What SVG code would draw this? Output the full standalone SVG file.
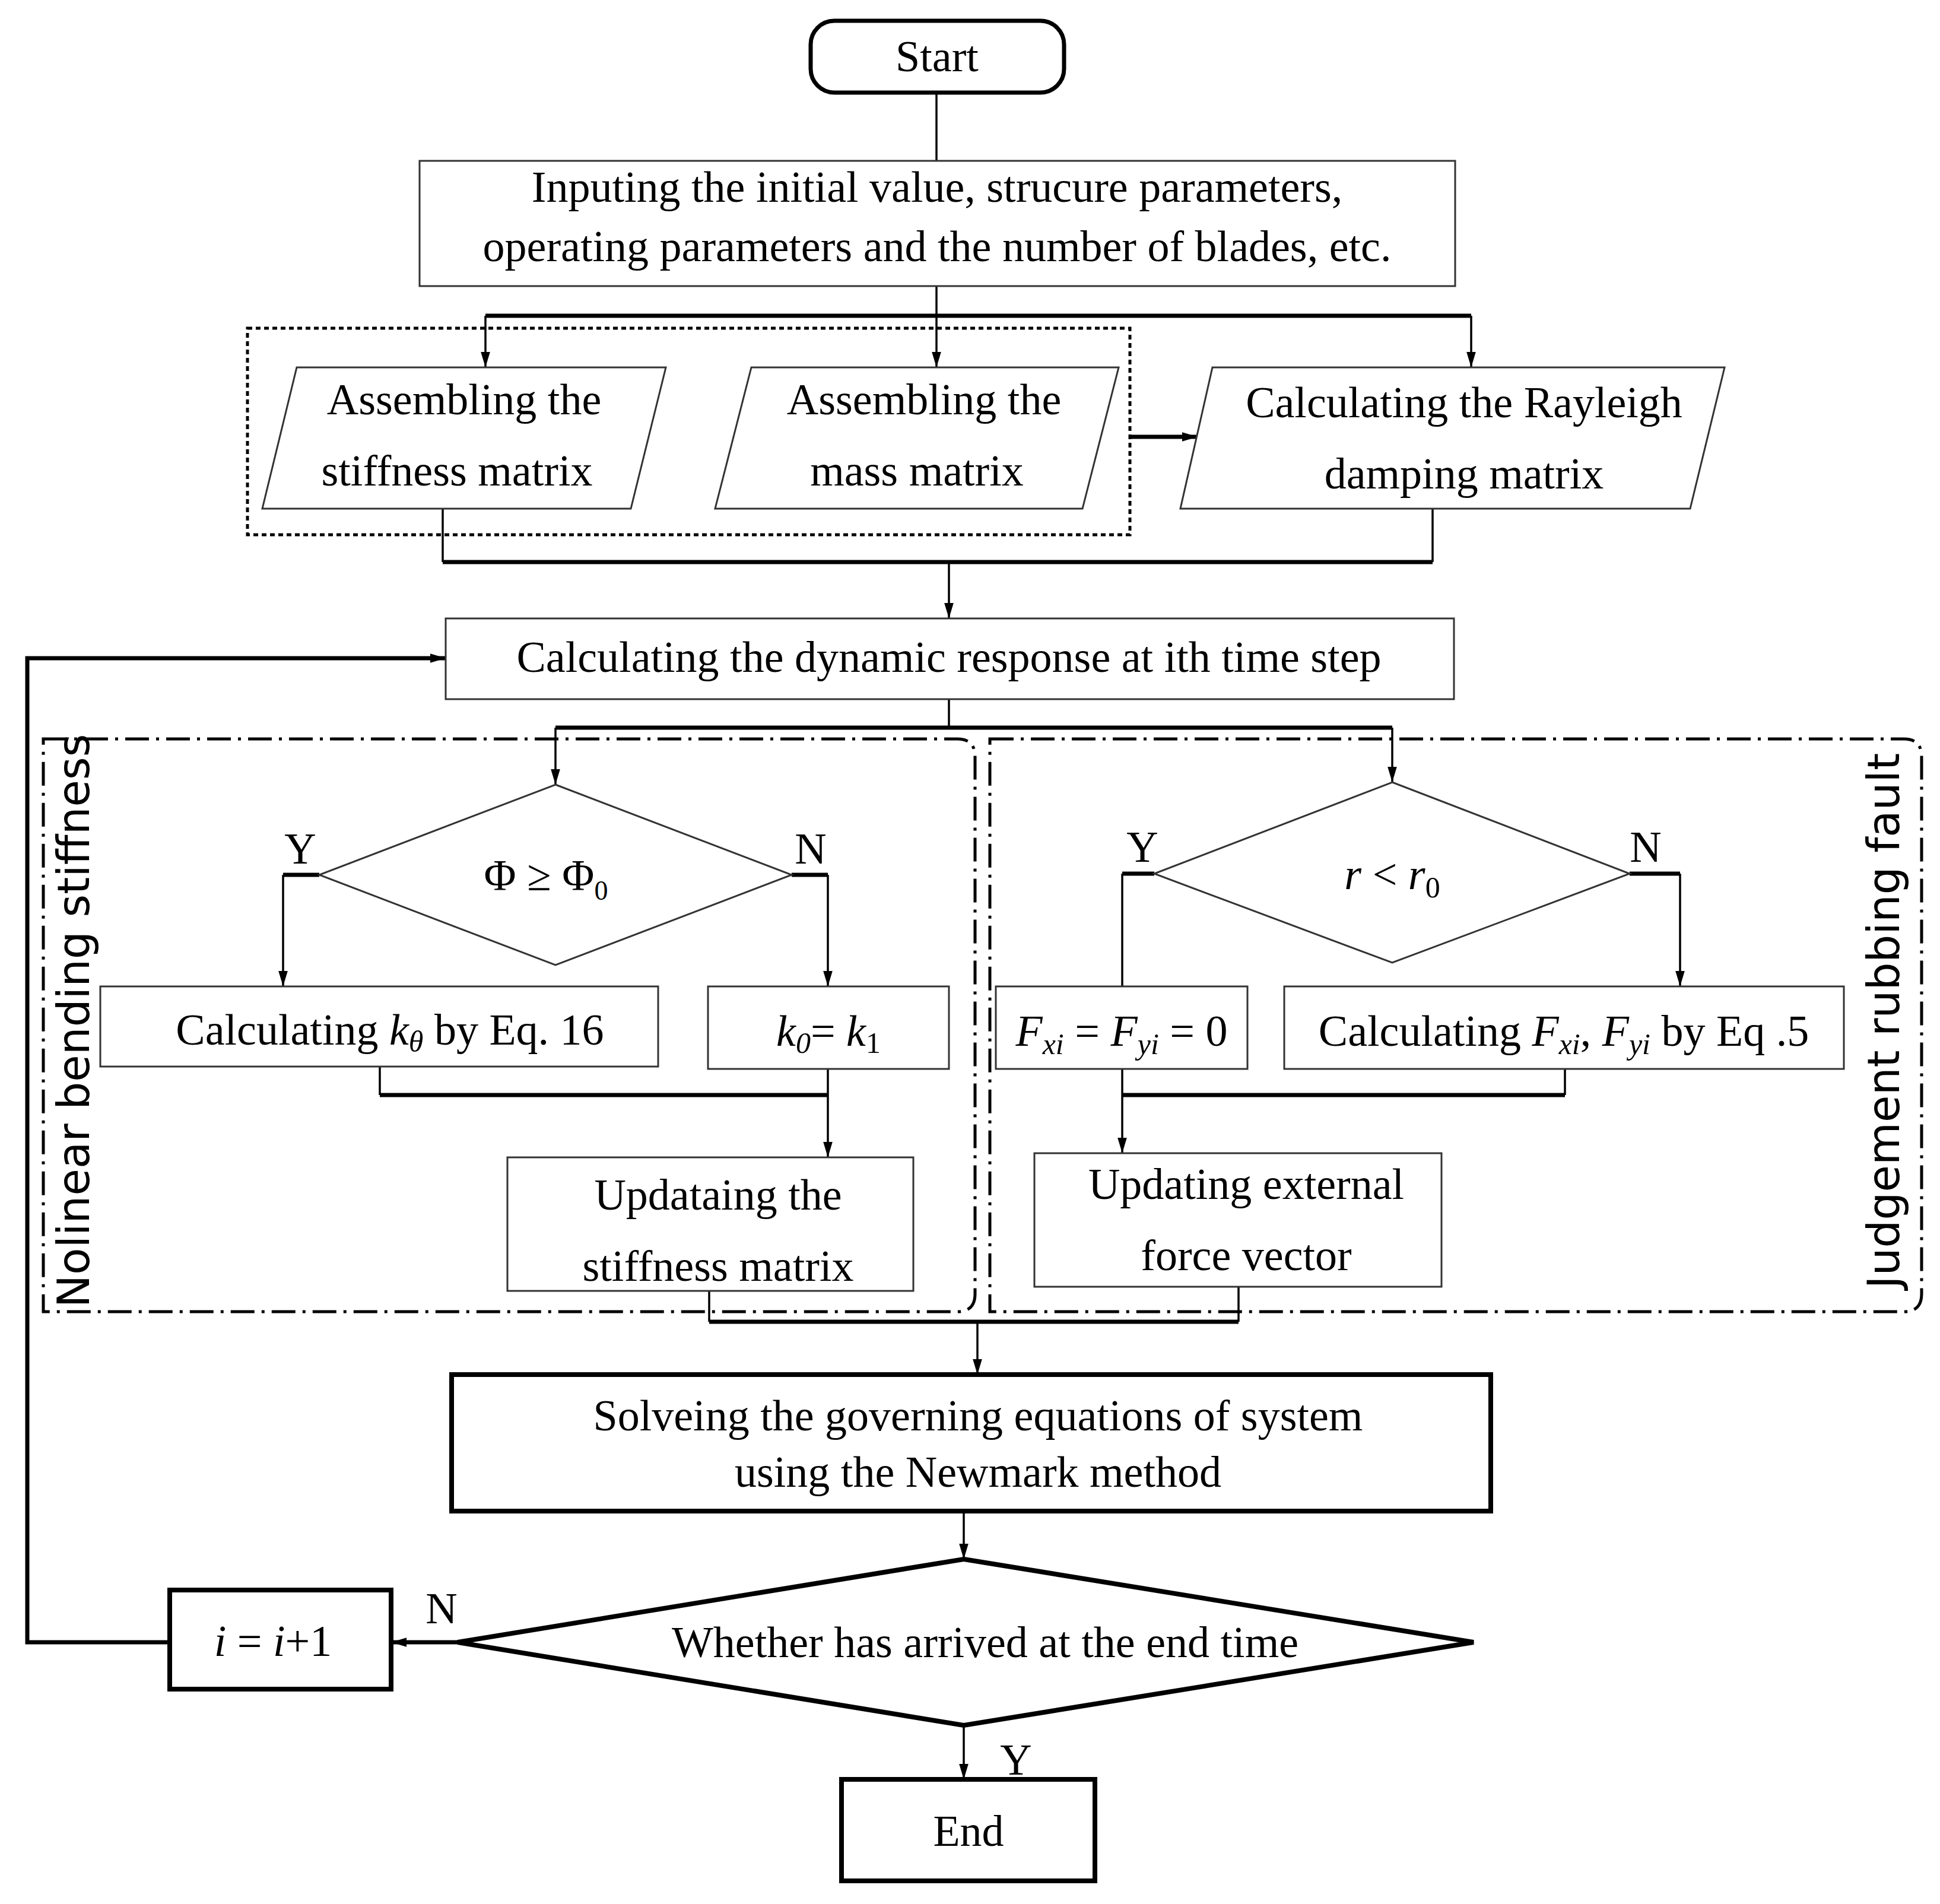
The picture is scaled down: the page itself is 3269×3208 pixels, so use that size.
<svg xmlns="http://www.w3.org/2000/svg" width="3269" height="3208" viewBox="0 0 3269 3208">
<defs>
<marker id="ar" viewBox="0 0 10 10" refX="10" refY="5" markerWidth="26" markerHeight="26" markerUnits="userSpaceOnUse" orient="auto"><path d="M0,2 L10,5 L0,8 Z" fill="#000"/></marker>
</defs>
<style>
text{font-family:"Liberation Serif","Times New Roman",serif;fill:#000;font-size:74px;text-anchor:middle}
.b{fill:#fff;stroke:#333;stroke-width:3}
.bk{fill:#fff;stroke:#000;stroke-width:8}
.l{fill:none;stroke:#000;stroke-width:3.5}
.t{fill:none;stroke:#000;stroke-width:7}
.dd{fill:none;stroke:#000;stroke-width:5;stroke-dasharray:40 12 5 12}
.it{font-style:italic}
</style>
<rect width="3269" height="3208" fill="#fff"/>
<g id="regions">
<rect x="417" y="553" width="1487" height="348" fill="none" stroke="#000" stroke-width="5" stroke-dasharray="8 6"/>
<path class="dd" d="M73,1245 H1613 Q1643,1245 1643,1275 V2180 Q1643,2210 1613,2210 H73 Z"/>
<path class="dd" d="M1668,1245 H3208 Q3238,1245 3238,1275 V2180 Q3238,2210 3208,2210 H1668 Z"/>
<text transform="translate(150,1720) rotate(-90)" font-size="70" style="font-family:'DejaVu Sans','Liberation Sans',sans-serif">Nolinear bending stiffness</text>
<text transform="translate(3200,1720) rotate(-90)" font-size="70" style="font-family:'DejaVu Sans','Liberation Sans',sans-serif">Judgement rubbing fault</text>
</g>
<g id="connectors">
<path class="l" d="M1578,156 V271"/>
<path class="l" d="M1578,482 V532"/>
<path class="t" d="M818,532 H2479"/>
<path class="l" d="M818,532 V619" marker-end="url(#ar)"/>
<path class="l" d="M1578,532 V619" marker-end="url(#ar)"/>
<path class="l" d="M2479,532 V619" marker-end="url(#ar)"/>
<path class="t" d="M1904,736 H2018" marker-end="url(#ar)"/>
<path class="l" d="M746,857 V947"/>
<path class="l" d="M2414,857 V947"/>
<path class="t" d="M746,947 H2414"/>
<path class="l" d="M1599,947 V1042" marker-end="url(#ar)"/>
<path class="l" d="M1599,1178 V1226"/>
<path class="t" d="M936,1226 H2346"/>
<path class="l" d="M936,1226 V1322" marker-end="url(#ar)"/>
<path class="l" d="M2346,1226 V1318" marker-end="url(#ar)"/>
<path class="t" d="M538,1474 H477"/>
<path class="l" d="M477,1474 V1662" marker-end="url(#ar)"/>
<path class="t" d="M1334,1474 H1395"/>
<path class="l" d="M1395,1474 V1662" marker-end="url(#ar)"/>
<path class="l" d="M640,1797 V1845"/>
<path class="l" d="M1395,1801 V1950" marker-end="url(#ar)"/>
<path class="t" d="M640,1845 H1395"/>
<path class="t" d="M1945,1472 H1891"/>
<path class="l" d="M1891,1472 V1662"/>
<path class="t" d="M2746,1472 H2831"/>
<path class="l" d="M2831,1472 V1662" marker-end="url(#ar)"/>
<path class="l" d="M1891,1801 V1943" marker-end="url(#ar)"/>
<path class="l" d="M2637,1801 V1845"/>
<path class="t" d="M1891,1845 H2637"/>
<path class="l" d="M1195,2175 V2227"/>
<path class="l" d="M2087,2168 V2227"/>
<path class="t" d="M1195,2227 H2087"/>
<path class="l" d="M1647,2227 V2316" marker-end="url(#ar)"/>
<path class="l" d="M1624,2546 V2627" marker-end="url(#ar)"/>
<path class="t" d="M771,2767 H659" marker-end="url(#ar)"/>
<path class="l" d="M1624,2907 V2998" marker-end="url(#ar)"/>
<path class="t" d="M286,2767 H46 V1109 H751" marker-end="url(#ar)"/>
<text x="506" y="1455">Y</text>
<text x="1366" y="1455">N</text>
<text x="1925" y="1452">Y</text>
<text x="2773" y="1452">N</text>
<text x="744" y="2735">N</text>
<text x="1712" y="2990">Y</text>
</g>
<g id="start"><rect x="1366" y="35" width="427" height="121" rx="40" fill="#fff" stroke="#000" stroke-width="7"/><text x="1579" y="120">Start</text></g>
<g id="input"><rect class="b" x="707" y="271" width="1745" height="211"/><text x="1579" y="340">Inputing the initial value, strucure parameters,</text><text x="1579" y="440">operating parameters and the number of  blades, etc.</text></g>
<g id="stiff"><path class="b" d="M500,619 H1122 L1063,857 H442 Z"/><text x="782" y="698">Assembling the</text><text x="770" y="818">stiffness matrix</text></g>
<g id="mass"><path class="b" d="M1266,619 H1885 L1824,857 H1205 Z"/><text x="1557" y="698">Assembling the</text><text x="1545" y="818">mass matrix</text></g>
<g id="damp"><path class="b" d="M2043,619 H2906 L2848,857 H1989 Z"/><text x="2467" y="703">Calculating the Rayleigh</text><text x="2467" y="823">damping matrix</text></g>
<g id="dyn"><rect class="b" x="751" y="1042" width="1699" height="136"/><text x="1599" y="1132">Calculating the dynamic response at ith time step</text></g>
<g id="d1"><path class="b" d="M936,1322 L1334,1474 L936,1626 L538,1474 Z"/><text x="920" y="1500">Φ ≥ Φ<tspan font-size="46" dy="16">0</tspan></text></g>
<g id="ktheta"><rect class="b" x="169" y="1662" width="940" height="135"/><text x="657" y="1760">Calculating <tspan class="it">k<tspan font-size="50" dy="12">θ</tspan></tspan><tspan dy="-12"> by Eq. 16</tspan></text></g>
<g id="k0"><rect class="b" x="1193" y="1662" width="406" height="139"/><text x="1396" y="1762"><tspan class="it">k<tspan font-size="50" dy="12">0</tspan></tspan><tspan dy="-12">= </tspan><tspan class="it">k</tspan><tspan font-size="50" dy="12">1</tspan></text></g>
<g id="upd1"><rect class="b" x="855" y="1950" width="684" height="225"/><text x="1210" y="2038">Updataing the</text><text x="1210" y="2158">stiffness matrix</text></g>
<g id="d2"><path class="b" d="M2346,1318 L2746,1472 L2346,1622 L1945,1472 Z"/><text x="2346" y="1498"><tspan class="it">r</tspan> &lt; <tspan class="it">r</tspan><tspan font-size="50" dy="14">0</tspan></text></g>
<g id="f0"><rect class="b" x="1678" y="1662" width="424" height="139"/><text x="1890" y="1762"><tspan class="it">F<tspan font-size="50" dy="14">xi</tspan></tspan><tspan dy="-14"> = </tspan><tspan class="it">F<tspan font-size="50" dy="14">yi</tspan></tspan><tspan dy="-14"> = 0</tspan></text></g>
<g id="fcalc"><rect class="b" x="2164" y="1662" width="943" height="139"/><text x="2635" y="1762">Calculating <tspan class="it">F<tspan font-size="50" dy="14">xi</tspan></tspan><tspan dy="-14">, </tspan><tspan class="it">F<tspan font-size="50" dy="14">yi</tspan></tspan><tspan dy="-14"> by Eq .5</tspan></text></g>
<g id="upd2"><rect class="b" x="1743" y="1943" width="686" height="225"/><text x="2100" y="2020">Updating external</text><text x="2100" y="2140">force vector</text></g>
<g id="solve"><rect class="bk" x="761" y="2316" width="1751" height="230"/><text x="1648" y="2410">Solveing the governing equations of system</text><text x="1648" y="2505">using the Newmark method</text></g>
<g id="d3"><path class="bk" d="M1624,2627 L2483,2767 L1624,2907 L771,2767 Z"/><text x="1660" y="2792">Whether has arrived at the end time</text></g>
<g id="inc"><rect class="bk" x="286" y="2679" width="373" height="167"/><text x="460" y="2790"><tspan class="it">i</tspan> = <tspan class="it">i</tspan>+1</text></g>
<g id="end"><rect class="bk" x="1418" y="2998" width="427" height="171"/><text x="1632" y="3110">End</text></g>
</svg>
